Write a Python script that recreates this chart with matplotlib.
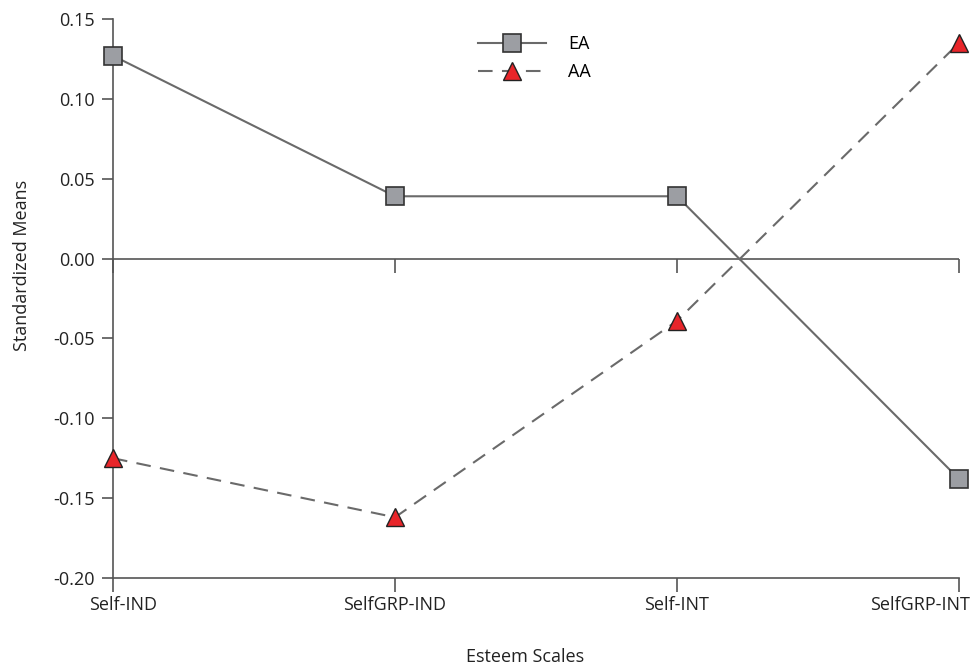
import matplotlib
matplotlib.use("Agg")
import matplotlib.pyplot as plt
from matplotlib.transforms import ScaledTranslation

# values
scales = ["Self-IND", "SelfGRP-IND", "Self-INT", "SelfGRP-INT"]
ea_means = [0.127, 0.039, 0.039, -0.138]
aa_means = [-0.125, -0.162, -0.039, 0.135]
y_ticks = [-0.20, -0.15, -0.10, -0.05, 0.00, 0.05, 0.10, 0.15]

plt.rcParams['font.family'] = ['Open Sans', 'DejaVu Sans']
axis_col = "#555555"
text_col = "#222222"

fig, ax = plt.subplots(figsize=(9.74, 6.71), dpi=100)
fig.subplots_adjust(left=0.116, right=0.9846, top=0.9717, bottom=0.1386)

x = list(range(len(scales)))

ax.plot(x, ea_means, '-', color="#6a6a6a", lw=1.5, marker='s', markersize=13,
        markerfacecolor="#9c9ea3", markeredgecolor="#333333", markeredgewidth=1.2,
        label="EA", zorder=3, clip_on=False)
ax.plot(x, aa_means, '--', color="#6a6a6a", lw=1.5, dashes=(7, 4.5), marker='^',
        markersize=13, markerfacecolor="#e8252a", markeredgecolor="#222222",
        markeredgewidth=1.0, label="AA", zorder=3, clip_on=False)

ax.set_xlim(0, 3)
ax.set_ylim(-0.20, 0.15)

ax.spines['top'].set_visible(False)
ax.spines['right'].set_visible(False)
for s in ['left', 'bottom']:
    ax.spines[s].set_color(axis_col)
    ax.spines[s].set_linewidth(1.2)

ax.set_xticks(x)
ax.set_xticklabels(scales)
ax.set_yticks(y_ticks)
ax.set_yticklabels([f"{v:.2f}" for v in y_ticks])
ax.tick_params(axis='both', direction='out', color=axis_col, width=1.2,
               labelsize=13, labelcolor=text_col)
ax.tick_params(axis='x', length=10, pad=3)
ax.tick_params(axis='y', length=8, pad=5)

# end labels nudged so they stay inside the figure, as in the source
xlabels = ax.get_xticklabels()
xlabels[0].set_transform(xlabels[0].get_transform()
                         + ScaledTranslation(0.10, 0, fig.dpi_scale_trans))
xlabels[-1].set_transform(xlabels[-1].get_transform()
                          + ScaledTranslation(-0.39, 0, fig.dpi_scale_trans))

# zero line with its own category ticks
ax.axhline(0, color=axis_col, lw=1.2, zorder=1)
zero_ax = ax.secondary_xaxis(0, transform=ax.transData)
zero_ax.set_xticks(x)
zero_ax.set_xticklabels([])
zero_ax.spines['bottom'].set_visible(False)
zero_ax.tick_params(direction='out', length=10, width=1.2, color=axis_col)

ax.set_xlabel("Esteem Scales", fontsize=13, color=text_col)
ax.set_ylabel("Standardized Means", fontsize=13, color=text_col)
ax.xaxis.set_label_coords(0.487, -0.126)
ax.yaxis.set_label_coords(-0.097, 0.56)

leg = ax.legend(loc='upper left', bbox_to_anchor=(0.412, 1.0), frameon=False,
                fontsize=13, handlelength=3.8, handletextpad=1.2,
                labelspacing=0.55)

fig.savefig("out.png", dpi=100)
